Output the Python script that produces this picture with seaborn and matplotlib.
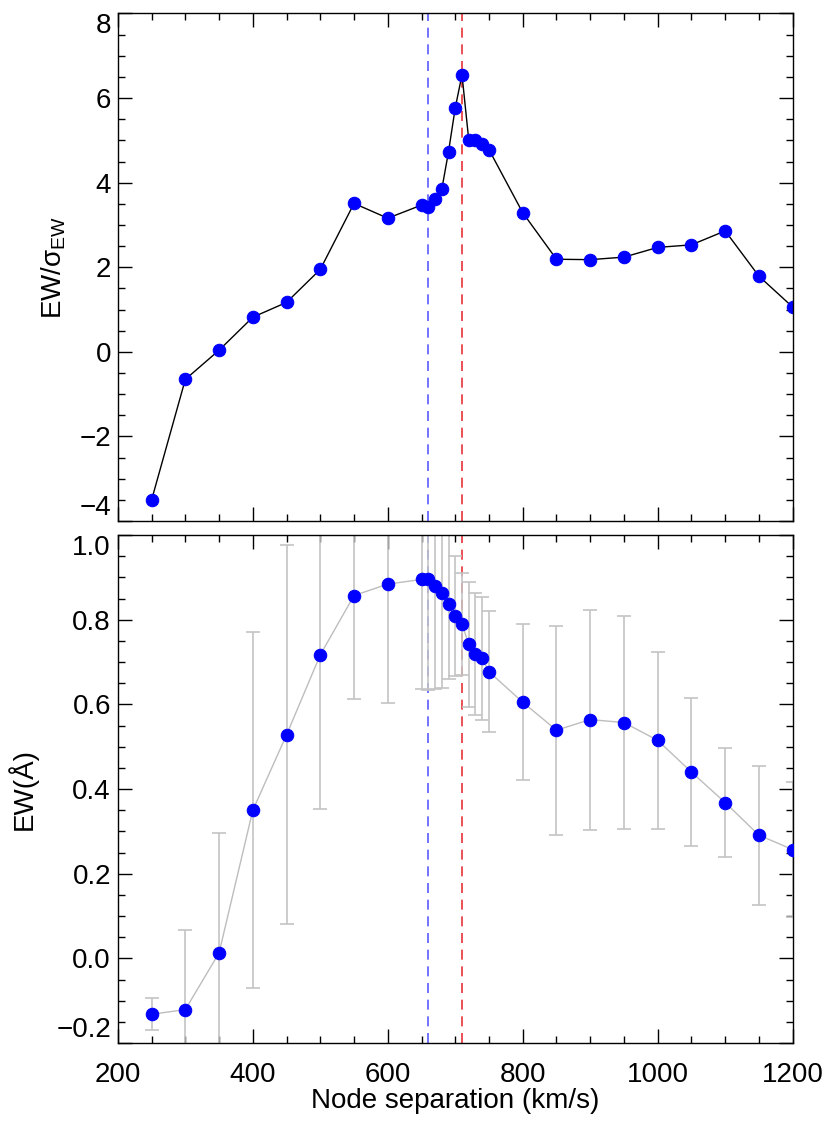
import numpy as np
import pandas as pd
import matplotlib
matplotlib.use("Agg")
import matplotlib.pyplot as plt
from matplotlib.ticker import MultipleLocator
import seaborn as sns

# node separation grid (km/s)
sep_top = [250, 300, 350, 400, 450, 500, 550, 600, 650, 660, 670, 680, 690, 700,
           710, 720, 730, 740, 750, 800, 850, 900, 950, 1000, 1050, 1100, 1150, 1200]
# significance EW / sigma_EW
ew_sig = [-3.50, -0.65, 0.04, 0.82, 1.17, 1.95, 3.51, 3.16, 3.47, 3.42, 3.61, 3.84,
          4.73, 5.77, 6.55, 5.01, 5.02, 4.91, 4.78, 3.29, 2.19, 2.18, 2.24, 2.47,
          2.53, 2.86, 1.79, 1.06]

sep_bot = sep_top
# equivalent width (Angstrom) and 1-sigma errors
ew = [-0.132, -0.121, 0.013, 0.350, 0.528, 0.717, 0.857, 0.884, 0.895, 0.895,
      0.880, 0.862, 0.837, 0.809, 0.790, 0.742, 0.719, 0.709, 0.677, 0.605,
      0.539, 0.564, 0.557, 0.515, 0.440, 0.368, 0.291, 0.257]
ew_err = [0.038, 0.188, 0.284, 0.420, 0.448, 0.365, 0.244, 0.282, 0.258, 0.262,
          0.243, 0.224, 0.176, 0.141, 0.121, 0.148, 0.144, 0.145, 0.143, 0.184,
          0.247, 0.260, 0.252, 0.209, 0.175, 0.129, 0.164, 0.16]

# reference separations
v_blue = 660
v_red = 710

sns.set_style("ticks")
plt.rcParams.update({
    'font.family': ['Liberation Sans', 'DejaVu Sans'],
    'mathtext.fontset': 'custom',
    'mathtext.rm': 'Liberation Sans',
    'mathtext.it': 'Liberation Sans',
    'xtick.direction': 'in',
    'ytick.direction': 'in',
    'xtick.top': True,
    'ytick.right': True,
    'axes.linewidth': 1.0,
    'text.color': 'black',
    'axes.labelcolor': 'black',
    'xtick.color': 'black',
    'ytick.color': 'black',
})

df_top = pd.DataFrame({'sep': sep_top, 'sig': ew_sig})
df_bot = pd.DataFrame({'sep': sep_bot, 'ew': ew, 'err': ew_err})

fig = plt.figure(figsize=(8.3, 11.23), dpi=100)
ax1 = fig.add_axes([0.142, 0.536, 0.813, 0.452])
ax2 = fig.add_axes([0.142, 0.0712, 0.813, 0.4524])

# --- top panel: significance ---
sns.lineplot(data=df_top, x='sep', y='sig', ax=ax1, color='black', linewidth=1.0,
             marker='o', markersize=9, markerfacecolor='blue', markeredgecolor='blue',
             estimator=None, sort=False)
ax1.set_ylim(-4, 8)
ax1.set_ylabel(r'EW/$\sigma_{\rm EW}$', fontsize=20, labelpad=8)
ax1.yaxis.set_major_locator(MultipleLocator(2))
ax1.yaxis.set_minor_locator(MultipleLocator(0.5))
ax1.set_xlabel('')
ax1.tick_params(labelbottom=False)

# --- bottom panel: equivalent width ---
ax2.errorbar(df_bot['sep'], df_bot['ew'], yerr=df_bot['err'], fmt='none',
             ecolor='#c4c4c4', elinewidth=1.2, capsize=5, capthick=1.2, zorder=1)
sns.lineplot(data=df_bot, x='sep', y='ew', ax=ax2, color='#bdbdbd', linewidth=1.0,
             marker='o', markersize=9, markerfacecolor='blue', markeredgecolor='blue',
             estimator=None, sort=False, zorder=3)
ax2.set_ylim(-0.2, 1.0)
ax2.set_ylabel('EW(Å)', fontsize=20, labelpad=13)
ax2.yaxis.set_major_locator(MultipleLocator(0.2))
ax2.yaxis.set_minor_locator(MultipleLocator(0.05))
ax2.yaxis.set_major_formatter(plt.FuncFormatter(lambda y, _: f'{y:.1f}'.replace('-', '\u2212')))
ax2.set_xlabel('Node separation (km/s)', fontsize=20, labelpad=0)

for ax in (ax1, ax2):
    ax.set_xlim(200, 1200)
    ax.xaxis.set_major_locator(MultipleLocator(200))
    ax.xaxis.set_minor_locator(MultipleLocator(50))
    ax.tick_params(which='major', length=10, width=1.0, labelsize=20, pad=5)
    ax.tick_params(axis='x', which='major', pad=14)
    ax.tick_params(which='minor', length=5, width=1.0)
    ax.axvline(v_blue, color='#5a5aff', linestyle=(0, (6, 4)), linewidth=1.2, zorder=0)
    ax.axvline(v_red, color='#e8333a', linestyle=(0, (6, 4)), linewidth=1.2, zorder=0)
    for s in ax.spines.values():
        s.set_visible(True)
        s.set_color('black')

# keep the end labels of each y axis inside the panel (IDL style)
fig.canvas.draw()
for ax in (ax1, ax2):
    lo, hi = ax.get_ylim()
    for t in ax.yaxis.get_major_ticks():
        loc = t.get_loc()
        if np.isclose(loc, lo):
            t.label1.set_verticalalignment('bottom')
        elif np.isclose(loc, hi):
            t.label1.set_verticalalignment('top')

fig.savefig('out.png', dpi=100)
